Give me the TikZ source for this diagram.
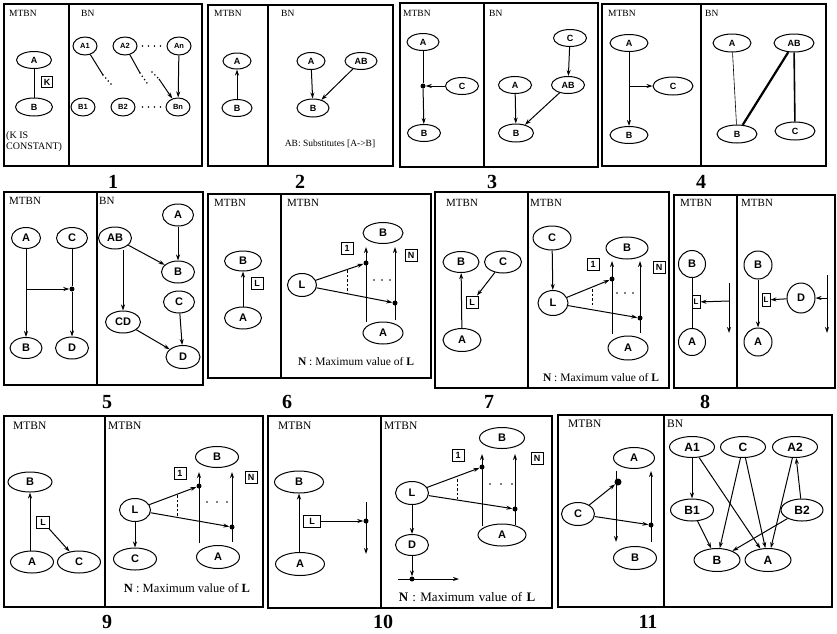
\documentclass[tikz,border=0pt]{standalone}
\usepackage{fontspec}
\setmainfont{Liberation Serif}
\setsansfont{Liberation Sans}
\usetikzlibrary{shapes.geometric,arrows.meta}
\begin{document}
\begin{tikzpicture}[x=1pt,y=-1pt,
  panel/.style={draw, line width=1.3pt},
  el/.style={draw, ellipse, line width=1pt, inner sep=0pt, minimum width=36pt, minimum height=19pt, font=\sffamily\bfseries\fontsize{10}{10}\selectfont},
  sz/.style 2 args={minimum width=#1pt, minimum height=#2pt},
  lab/.style={anchor=west, inner sep=0pt, font=\fontsize{10}{10}\selectfont},
  num/.style={inner sep=0pt, font=\bfseries\fontsize{20}{20}\selectfont},
  bx/.style={draw, line width=0.9pt, minimum width=12pt, minimum height=12pt, inner sep=0pt, font=\sffamily\bfseries\fontsize{9}{9}\selectfont},
  arr/.style={line width=1pt, -{Stealth[length=6pt,width=4pt]}},
  ln/.style={line width=1pt},
  jd/.style={circle, fill, inner sep=0pt, minimum size=5pt},
  note/.style={inner sep=0pt, font=\fontsize{11.5}{12}\selectfont},
  dts/.style={line width=1.7pt, dash pattern=on 0pt off 6pt, line cap=round},
  dsh/.style={line width=0.9pt, dash pattern=on 2.5pt off 2pt}
]
\useasboundingbox (0,0) rectangle (837,633);

% ================= ROW 1 =================
\begin{scope}[el/.append style={font=\sffamily\bfseries\fontsize{9}{9}\selectfont},
              lab/.append style={font=\fontsize{9.5}{9.5}\selectfont}]
% ---------- Panel 1 ----------
\draw[panel] (4,4) rectangle (202,166);
\draw[panel] (69,4) -- (69,166);
\node[lab] (p1t1) at (9,13) {MTBN};
\node[lab] (p1t2) at (81,13) {BN};
\node[el,sz={35}{17}] (p1A) at (34,60) {A};
\node[el,sz={37}{18}] (p1B) at (34,107) {B};
\draw[ln] (p1A) -- (p1B);
\node[bx,sz={11}{11}] (p1K) at (47,82) {K};
\node[anchor=north west, inner sep=0pt, align=left, font=\fontsize{10}{11.5}\selectfont] (p1c) at (6,131) {(K IS\\CONSTANT)};
\begin{scope}[el/.append style={sz={24}{18}, font=\sffamily\bfseries\fontsize{7.5}{7.5}\selectfont}]
\node[el] (p1A1) at (85,46) {A1};
\node[el] (p1A2) at (125,46) {A2};
\node[el] (p1An) at (179,46) {An};
\node[el] (p1B1) at (83,107) {B1};
\node[el] (p1B2) at (123,107) {B2};
\node[el] (p1Bn) at (178,107) {Bn};
\end{scope}
\draw[dts, shorten <=5pt, shorten >=6pt] (p1A2) -- (p1An);
\draw[dts, shorten <=7pt, shorten >=5pt] (p1B2) -- (p1Bn);
\coordinate (p1m1) at (103,75); \coordinate (p1e1) at (111,84);
\draw[ln] (p1A1) -- (p1m1); \draw[dts, dash pattern=on 0pt off 4pt] (p1m1) -- (p1e1);
\coordinate (p1m2) at (140,73); \coordinate (p1e2) at (147,83);
\draw[ln] (p1A2) -- (p1m2); \draw[dts, dash pattern=on 0pt off 4pt] (p1m2) -- (p1e2);
\coordinate (p1m3) at (152,72); \coordinate (p1e3) at (159,79);
\draw[dts, dash pattern=on 0pt off 4pt] (p1m3) -- (p1e3);
\draw[arr] (p1e3) -- (p1Bn);
\draw[arr] (p1An) -- (p1Bn);
\node[num] (p1n) at (113,182) {1};

% ---------- Panel 2 ----------
\draw[panel] (208,5) rectangle (393,166);
\draw[panel] (268,5) -- (268,166);
\node[lab] (p2t1) at (214,13) {MTBN};
\node[lab] (p2t2) at (281,13) {BN};
\node[el,sz={28}{16}] (p2A) at (237,61) {A};
\node[el,sz={30}{17}] (p2B) at (237,108) {B};
\draw[arr] (p2B) -- (p2A);
\node[el,sz={28}{17}] (p2A2) at (311,61) {A};
\node[el,sz={32}{17}] (p2AB) at (361,61) {AB};
\node[el,sz={32}{18}] (p2B2) at (313,108) {B};
\draw[arr] (p2A2) -- (p2B2);
\draw[arr] (p2AB) -- (p2B2);
\node[inner sep=0pt, font=\fontsize{9.5}{9.5}\selectfont] (p2note) at (330,144) {AB: Substitutes [A->B]};
\node[num] (p2n) at (300,182) {2};

% ---------- Panel 3 ----------
\draw[panel] (400,3) rectangle (598,167);
\draw[panel] (484,3) -- (484,167);
\node[lab] (p3t1) at (403,13) {MTBN};
\node[lab] (p3t2) at (489,13) {BN};
\node[el,sz={32}{17}] (p3A) at (423,42) {A};
\node[el,sz={33}{17}] (p3C) at (462,86) {C};
\node[el,sz={33}{17}] (p3B) at (424,133) {B};
\node[jd] (p3j) at (423,86) {};
\draw[ln] (p3A) -- (p3j);
\draw[arr] (p3j) -- (p3B);
\draw[arr] (p3C) -- (p3j);
\node[el,sz={33}{17}] (p3C2) at (570,38) {C};
\node[el,sz={33}{17}] (p3A2) at (515,85) {A};
\node[el,sz={33}{17}] (p3AB) at (568,85) {AB};
\node[el,sz={35}{18}] (p3B2) at (516,133) {B};
\draw[arr] (p3C2) -- (p3AB);
\draw[arr] (p3A2) -- (p3B2);
\draw[arr] (p3AB) -- (p3B2);
\node[num] (p3n) at (492,182) {3};

% ---------- Panel 4 ----------
\draw[panel] (602,4) rectangle (826,166);
\draw[panel] (701,4) -- (701,166);
\node[lab] (p4t1) at (608,13) {MTBN};
\node[lab] (p4t2) at (705,13) {BN};
\node[el,sz={38}{17}] (p4A) at (629,43) {A};
\node[el,sz={40}{18}] (p4C) at (673,86) {C};
\node[el,sz={38}{17}] (p4B) at (629,135) {B};
\draw[arr] (p4A) -- (p4B);
\coordinate (p4j) at (629,86);
\draw[arr] (p4j) -- (p4C);
\node[el,sz={38}{18}] (p4A2) at (732,43) {A};
\node[el,sz={40}{18}] (p4AB) at (794,43) {AB};
\node[el,sz={40}{18}] (p4B2) at (737,134) {B};
\node[el,sz={40}{18}] (p4C2) at (795,131) {C};
\draw[line width=0.6pt] (p4A2) -- (p4B2);
\draw[line width=2.2pt] (p4AB) -- (p4B2);
\draw[line width=1.6pt] (p4AB) -- (p4C2);
\node[num] (p4n) at (701,182) {4};
\end{scope}

% ================= ROW 2 =================
\begin{scope}[el/.append style={font=\sffamily\bfseries\fontsize{11}{11}\selectfont},
              lab/.append style={font=\fontsize{11}{11}\selectfont}]
% ---------- Panel 5 ----------
\draw[panel] (4,192) rectangle (203,385);
\draw[panel] (97,192) -- (97,385);
\node[lab] (p5t1) at (9,201) {MTBN};
\node[lab] (p5t2) at (99,201) {BN};
\node[el,sz={29}{21}] (p5A) at (26,238) {A};
\node[el,sz={31}{21}] (p5C) at (72,238) {C};
\node[el,sz={32}{21}] (p5B) at (26,348) {B};
\node[el,sz={33}{22}] (p5D) at (72,348) {D};
\draw[arr] (p5A) -- (p5B);
\node[jd] (p5j) at (72,289) {};
\coordinate (p5s) at (26,289);
\draw[ln] (p5C) -- (p5j);
\draw[arr] (p5j) -- (p5D);
\draw[arr] (p5s) -- (p5j);
\node[el,sz={31}{22}] (p5A2) at (178,215) {A};
\node[el,sz={33}{22}] (p5AB) at (115,238) {AB};
\node[el,sz={33}{22}] (p5B2) at (178,272) {B};
\node[el,sz={31}{22}] (p5C2) at (179,302) {C};
\node[el,sz={35}{22}] (p5CD) at (123,322) {CD};
\node[el,sz={34}{23}] (p5D2) at (183,357) {D};
\draw[arr] (p5A2) -- (p5B2);
\draw[arr] (p5AB) -- (p5B2);
\draw[arr] (p5CD |- p5AB.south) -- (p5CD);
\draw[arr] (p5C2) -- (p5D2);
\draw[arr] (p5CD) -- (p5D2);
\node[num] (p5n) at (107,402) {5};

% ---------- Panel 6 ----------
\draw[panel] (208,194) rectangle (431,378);
\draw[panel] (281,194) -- (281,378);
\node[lab] (p6t1) at (214,203) {MTBN};
\node[lab] (p6t2) at (287,203) {MTBN};
\node[el,sz={37}{20}] (p6Bl) at (243,261) {B};
\node[el,sz={37}{22}] (p6Al) at (243,318) {A};
\draw[arr] (p6Al) -- (p6Bl);
\node[bx] (p6Ll) at (257,283) {L};
\node[el,sz={40}{21}] (p6B) at (383,233) {B};
\node[el,sz={40}{22}] (p6A) at (383,333) {A};
\node[el,sz={29}{23}] (p6L) at (302,285) {L};
\coordinate (p6s1) at (366,322); \coordinate (p6e1) at (366,247);
\coordinate (p6sN) at (395,320); \coordinate (p6eN) at (395,247);
\draw[arr] (p6s1) -- (p6e1);
\draw[arr] (p6sN) -- (p6eN);
\node[jd] (p6d1) at (366,263) {};
\node[jd] (p6dN) at (395,303) {};
\draw[arr] (p6L) -- (p6d1);
\draw[arr] (p6L) -- (p6dN);
\coordinate (p6u) at (347,270); \coordinate (p6v) at (347,293);
\draw[dsh] (p6u) -- (p6v);
\coordinate (p6q1) at (374,280); \coordinate (p6q2) at (390.8,280);
\draw[dts, dash pattern=on 0pt off 8pt] (p6q1) -- (p6q2);
\node[bx] (p6b1) at (347,248) {1};
\node[bx] (p6bN) at (411,255) {N};
\node[note] (p6note) at (356,362) {\textbf{N} : Maximum value of \textbf{L}};
\node[num] (p6n) at (287,402) {6};

% ---------- Panel 7 ----------
\draw[panel] (435,192) rectangle (669,388);
\draw[panel] (528,192) -- (528,388);
\node[lab] (p7t1) at (446,203) {MTBN};
\node[lab] (p7t2) at (530,203) {MTBN};
\node[el,sz={36}{21}] (p7Bl) at (461,262) {B};
\node[el,sz={37}{22}] (p7Cl) at (503,262) {C};
\node[el,sz={38}{23}] (p7Al) at (462,340) {A};
\draw[arr] (p7Al) -- (p7Bl);
\node[bx] (p7Ll) at (472,302) {L};
\draw[arr] (p7Cl) -- (p7Ll);
\node[el,sz={38}{24}] (p7C) at (552,238) {C};
\node[el,sz={30}{25}] (p7L) at (553,303) {L};
\node[el,sz={42}{22}] (p7B) at (627,248) {B};
\node[el,sz={40}{24}] (p7A) at (628,348) {A};
\draw[arr] (p7C) -- (p7L);
\coordinate (p7s1) at (612,334); \coordinate (p7e1) at (612,261);
\coordinate (p7sN) at (640,333); \coordinate (p7eN) at (640,261);
\draw[arr] (p7s1) -- (p7e1);
\draw[arr] (p7sN) -- (p7eN);
\node[jd] (p7d1) at (612,279) {};
\node[jd] (p7dN) at (640,318) {};
\draw[arr] (p7L) -- (p7d1);
\draw[arr] (p7L) -- (p7dN);
\coordinate (p7u) at (592,289); \coordinate (p7v) at (592,307);
\draw[dsh] (p7u) -- (p7v);
\coordinate (p7q1) at (617,293); \coordinate (p7q2) at (633.8,293);
\draw[dts, dash pattern=on 0pt off 8pt] (p7q1) -- (p7q2);
\node[bx] (p7b1) at (593,264) {1};
\node[bx] (p7bN) at (659,267) {N};
\node[note] (p7note) at (601,378) {\textbf{N} : Maximum value of \textbf{L}};
\node[num] (p7n) at (489,402) {7};

% ---------- Panel 8 ----------
\draw[panel] (674,195) rectangle (835,388);
\draw[panel] (737,195) -- (737,388);
\node[lab] (p8t1) at (680,203) {MTBN};
\node[lab] (p8t2) at (741,203) {MTBN};
\begin{scope}[bx/.append style={sz={8}{13}, font=\sffamily\bfseries\fontsize{8}{8}\selectfont}]
\node[el,sz={27}{27}] (p8B1) at (692,264) {B};
\node[el,sz={27}{27}] (p8A1) at (692,342) {A};
\draw[ln, line width=0.7pt] (p8B1) -- (p8A1);
\node[bx] (p8L1) at (696,302) {L};
\coordinate (p8v1t) at (729,283); \coordinate (p8v1b) at (729,333);
\draw[arr] (p8v1t) -- (p8v1b);
\coordinate (p8v1m) at (729,301);
\draw[arr] (p8v1m) -- (p8L1);
\node[el,sz={28}{28}] (p8B2) at (758,265) {B};
\node[el,sz={28}{28}] (p8A2) at (758,342) {A};
\draw[arr] (p8B2) -- (p8A2);
\node[bx] (p8L2) at (766,300) {L};
\node[el,sz={28}{30}] (p8D) at (801,298) {D};
\draw[arr] (p8D) -- (p8L2);
\coordinate (p8v2t) at (827,275); \coordinate (p8v2b) at (827,333);
\draw[arr] (p8v2t) -- (p8v2b);
\coordinate (p8v2m) at (827,298);
\draw[arr] (p8v2m) -- (p8D);
\end{scope}
\node[num] (p8n) at (705,402) {8};
\end{scope}

% ================= ROW 3 =================
\begin{scope}[el/.append style={font=\sffamily\bfseries\fontsize{11}{11}\selectfont},
              lab/.append style={font=\fontsize{11.5}{11.5}\selectfont}]
% ---------- Panel 9 ----------
\draw[panel] (4,416) rectangle (263,607);
\draw[panel] (105,416) -- (105,607);
\node[lab] (p9t1) at (13,426) {MTBN};
\node[lab] (p9t2) at (108,426) {MTBN};
\node[el,sz={44}{20}] (p9Bl) at (30,482) {B};
\node[el,sz={43}{22}] (p9Al) at (32,562) {A};
\node[el,sz={43}{22}] (p9Cl) at (79,562) {C};
\draw[arr] (p9Al.north -| p9Bl) -- (p9Bl);
\node[bx,sz={13}{12}] (p9Ll) at (43,522) {L};
\draw[arr] (p9Ll) -- (p9Cl);
\node[el,sz={43}{21}] (p9B) at (217,457) {B};
\node[el,sz={31}{23}] (p9L) at (135,510) {L};
\node[el,sz={43}{22}] (p9C) at (135,559) {C};
\node[el,sz={43}{23}] (p9A) at (218,557) {A};
\draw[arr] (p9L) -- (p9C);
\coordinate (p9s1) at (199,543); \coordinate (p9e1) at (199,472);
\coordinate (p9sN) at (232,542); \coordinate (p9eN) at (232,472);
\draw[arr] (p9s1) -- (p9e1);
\draw[arr] (p9sN) -- (p9eN);
\node[jd] (p9d1) at (199,486) {};
\node[jd] (p9dN) at (232,527) {};
\draw[arr] (p9L) -- (p9d1);
\draw[arr] (p9L) -- (p9dN);
\coordinate (p9u) at (177,495); \coordinate (p9v) at (177,516);
\draw[dsh] (p9u) -- (p9v);
\coordinate (p9q1) at (207,502); \coordinate (p9q2) at (227.8,502);
\draw[dts, dash pattern=on 0pt off 10pt] (p9q1) -- (p9q2);
\node[bx] (p9b1) at (180,473) {1};
\node[bx] (p9bN) at (251,477) {N};
\node[note, font=\fontsize{12.5}{13}\selectfont] (p9note) at (187,588) {\textbf{N} : Maximum value of \textbf{L}};
\node[num] (p9n) at (107,622) {9};

% ---------- Panel 10 ----------
\draw[panel] (268,416) rectangle (552,608);
\draw[panel] (381,416) -- (381,608);
\node[lab] (p10t1) at (278,426) {MTBN};
\node[lab] (p10t2) at (384,426) {MTBN};
\node[el,sz={49}{22}] (p10Bl) at (299,482) {B};
\node[el,sz={49}{23}] (p10Al) at (300,564) {A};
\draw[arr] (p10Al.north -| p10Bl) -- (p10Bl);
\node[bx,sz={17}{12}] (p10Ll) at (312,521) {L};
\node[jd] (p10j) at (366,521) {};
\coordinate (p10vt) at (366,502); \coordinate (p10vb) at (366,554);
\draw[arr] (p10vt) -- (p10vb);
\draw[arr] (p10Ll) -- (p10j);
\node[el,sz={45}{21}] (p10B) at (502,438) {B};
\node[el,sz={33}{23}] (p10L) at (412,493) {L};
\node[el,sz={33}{21}] (p10D) at (412,545) {D};
\node[el,sz={48}{22}] (p10A) at (502,535) {A};
\coordinate (p10s1) at (482,526); \coordinate (p10e1) at (482,454);
\coordinate (p10sN) at (515,525); \coordinate (p10eN) at (515,454);
\draw[arr] (p10s1) -- (p10e1);
\draw[arr] (p10sN) -- (p10eN);
\node[jd] (p10d1) at (482,467) {};
\node[jd] (p10dN) at (515,509) {};
\draw[arr] (p10L) -- (p10d1);
\draw[arr] (p10L) -- (p10dN);
\coordinate (p10u) at (457,479); \coordinate (p10v) at (457,499);
\draw[dsh] (p10u) -- (p10v);
\coordinate (p10q1) at (490,484); \coordinate (p10q2) at (512.8,484);
\draw[dts, dash pattern=on 0pt off 11pt] (p10q1) -- (p10q2);
\node[bx] (p10b1) at (458,455) {1};
\node[bx] (p10bN) at (537,458) {N};
\draw[arr] (p10L) -- (p10D);
\node[jd] (p10j2) at (412,579) {};
\draw[arr] (p10D) -- (p10j2);
\coordinate (p10h1) at (398,579); \coordinate (p10h2) at (459,579);
\draw[arr] (p10h1) -- (p10h2);
\node[note, font=\fontsize{13}{13}\selectfont, text width=150pt, align=center] (p10note) at (467,597) {\textbf{N} :\ Maximum\ value\ of\ \textbf{L}};
\node[num] (p10n) at (383,622) {10};

% ---------- Panel 11 ----------
\draw[panel] (558,415) rectangle (832,607);
\draw[panel] (664,415) -- (664,607);
\node[lab] (p11t1) at (568,424) {MTBN};
\node[lab] (p11t2) at (667,424) {BN};
\node[el,sz={41}{21}] (p11Al) at (634,458) {A};
\node[el,sz={33}{23}] (p11Cl) at (578,514) {C};
\node[el,sz={43}{23}] (p11Bl) at (635,558) {B};
\coordinate (p11a1) at (616,471); \coordinate (p11a2) at (616,542);
\coordinate (p11b1) at (651,542); \coordinate (p11b2) at (651,471);
\draw[arr] (p11a1) -- (p11a2);
\draw[arr] (p11b1) -- (p11b2);
\node[jd, minimum width=7pt, minimum height=4.5pt] (p11d1) at (618,482) {};
\node[jd] (p11d2) at (651,525) {};
\draw[arr] (p11Cl) -- (p11d1);
\draw[arr] (p11Cl) -- (p11d2);
\begin{scope}[el/.append style={font=\sffamily\bfseries\fontsize{12}{12}\selectfont}]
\node[el,sz={45}{21}] (p11A1) at (692,447) {A1};
\node[el,sz={45}{21}] (p11C) at (743,447) {C};
\node[el,sz={45}{21}] (p11A2) at (795,447) {A2};
\node[el,sz={43}{22}] (p11B1) at (692,510) {B1};
\node[el,sz={42}{22}] (p11B2) at (802,510) {B2};
\node[el,sz={46}{23}] (p11B) at (717,560) {B};
\node[el,sz={46}{23}] (p11A) at (768,560) {A};
\end{scope}
\draw[arr] (p11A1) -- (p11B1);
\draw[arr] (p11A1) -- (p11A);
\draw[arr] (p11C) -- (p11B);
\draw[arr] (p11C) -- (p11A);
\draw[arr] (p11A2) -- (p11A);
\draw[arr] (p11B2) -- (p11A2);
\draw[arr] (p11B1) -- (p11B);
\draw[arr] (p11B2) -- (p11B);
\node[num] (p11n) at (648,622) {11};
\end{scope}
\end{tikzpicture}
\end{document}
